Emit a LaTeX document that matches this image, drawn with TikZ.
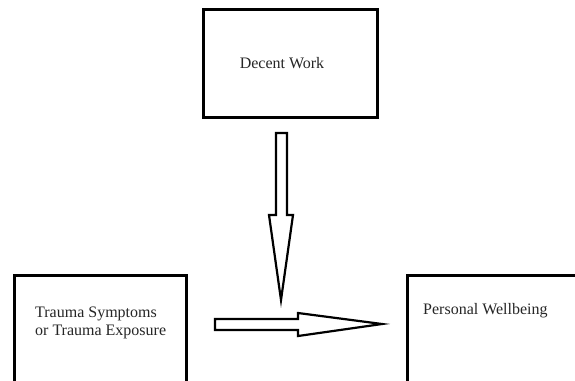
\documentclass[tikz,border=0pt]{standalone}
\usepackage{fontspec}
\setmainfont{Liberation Serif}
\begin{document}
\begin{tikzpicture}[x=1pt,y=-1pt,
  box/.style={draw=black,line width=3pt,fill=white},
  lbl/.style={font=\fontsize{16}{18}\selectfont,text=black!85,inner sep=0pt},
  blockarrow/.style={draw=black,line width=2.2pt,line join=miter,fill=white}]
  \useasboundingbox (0,0) rectangle (575,380);
  \clip (0,0) rectangle (575,380);
  % boxes
  \draw[box] (203,9) rectangle (377,117);
  \draw[box] (14,275) rectangle (186,395);
  \draw[box] (407,275) rectangle (590,395);
  % labels
  \node[lbl,anchor=base] (dw) at (282,68) {Decent Work};
  \node[lbl,anchor=base west,align=left] (ts) at (35,335) {Trauma Symptoms\\or Trauma Exposure};
  \node[lbl,anchor=base west] (pw) at (423,314) {Personal Wellbeing};
  % vertical block arrow
  \draw[blockarrow] (276,133) -- (287,133) -- (287,215) -- (293,215)
    -- (281,300) -- (269,215) -- (276,215) -- cycle;
  % horizontal block arrow
  \draw[blockarrow] (215,319) -- (298,319) -- (298,313) -- (382,324)
    -- (298,336) -- (298,330) -- (215,330) -- cycle;
\end{tikzpicture}
\end{document}
